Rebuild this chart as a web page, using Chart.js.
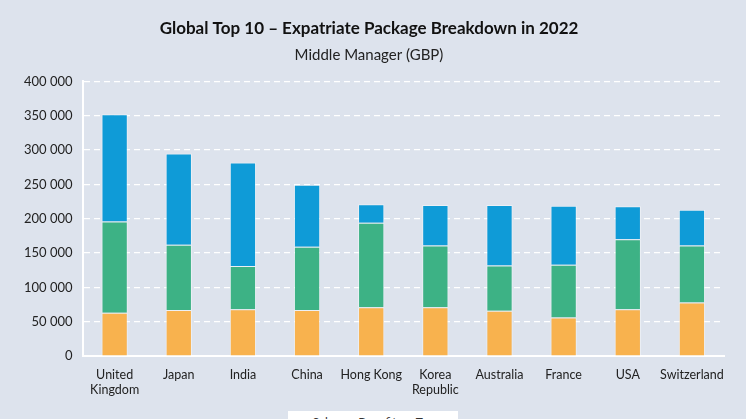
<!DOCTYPE html>
<html>
<head>
<meta charset="utf-8">
<script src="https://cdn.jsdelivr.net/npm/chart.js@4/dist/chart.umd.min.js"></script>
<style>
  html, body { margin: 0; padding: 0; background: #dde3ed; overflow: hidden; }
  #wrap { position: relative; width: 746px; height: 419px; }
  #legend-box {
    position: absolute; left: 288px; top: 411px; width: 170px; height: 30px;
    background: #ffffff; font-family: Lato, sans-serif; font-size: 12px; color: #333;
    display: flex; justify-content: center; gap: 14px; padding-top: 3px; box-sizing: border-box;
  }
</style>
</head>
<body>
<div id="wrap">
  <canvas id="package-chart" width="746" height="419"></canvas>
  <div id="legend-box"><span>Salary</span><span>Benefits</span><span>Tax</span></div>
</div>
<script>
"use strict";
const countries = [
  ["United", "Kingdom"], "Japan", "India", "China", "Hong Kong",
  ["Korea", "Republic"], "Australia", "France", "USA", "Switzerland",
];
const salaryValues = [63000, 67000, 68000, 67000, 71000, 71000, 66000, 56000, 68000, 78000];
const benefitsValues = [133000, 95000, 63000, 92000, 123000, 90000, 66000, 77000, 102000, 83000];
const taxValues = [156000, 133000, 151000, 90500, 27000, 59000, 88000, 86000, 48000, 52000];
const yTicks = [0, 50000, 100000, 150000, 200000, 250000, 300000, 350000, 400000];

const chartFont = "Lato, 'Open Sans', sans-serif";
const formatThousands = (v) => String(v).replace(/\B(?=(\d{3})+(?!\d))/g, " ");

const packageChartElement = document.querySelector("canvas#package-chart");
new Chart(packageChartElement, {
  type: "bar",
  data: {
    labels: countries,
    datasets: [
      { label: "Salary", data: salaryValues, backgroundColor: "#f8b24e" },
      { label: "Benefits", data: benefitsValues, backgroundColor: "#3db285" },
      { label: "Tax", data: taxValues, backgroundColor: "#0f9bd7" },
    ].map((ds) => ({
      ...ds,
      borderColor: "rgba(255,255,255,0.45)",
      borderWidth: 1,
      barPercentage: 0.82,
      categoryPercentage: 0.5,
    })),
  },
  options: {
    responsive: false,
    animation: false,
    layout: { padding: { left: 14, right: 22, top: 6, bottom: 19 } },
    plugins: {
      legend: { display: false },
      tooltip: { enabled: false },
      title: {
        display: true,
        text: "Global Top 10 \u2013 Expatriate Package Breakdown in 2022",
        color: "#111111",
        font: { family: chartFont, size: 17, weight: "bold" },
        padding: { top: 12, bottom: 8 },
      },
      subtitle: {
        display: true,
        text: "Middle Manager (GBP)",
        color: "#222222",
        font: { family: chartFont, size: 15, weight: "normal" },
        padding: { bottom: 17 },
      },
    },
    scales: {
      x: {
        stacked: true,
        grid: { display: false },
        border: { color: "#ffffff", width: 2 },
        ticks: {
          color: "#222222",
          font: { family: chartFont, size: 12.5 },
          maxRotation: 0,
          autoSkip: false,
          padding: 3,
        },
      },
      y: {
        stacked: true,
        min: 0,
        max: 400000,
        afterBuildTicks: (axis) => {
          axis.ticks = yTicks.map((v) => ({ value: v }));
        },
        grid: { color: "#ffffff", lineWidth: 1.2, drawTicks: false },
        border: { color: "#ffffff", width: 2, dash: [6, 4] },
        ticks: {
          color: "#222222",
          font: { family: chartFont, size: 13 },
          padding: 10,
          callback: (v) => formatThousands(v),
        },
      },
    },
  },
});
</script>
</body>
</html>
